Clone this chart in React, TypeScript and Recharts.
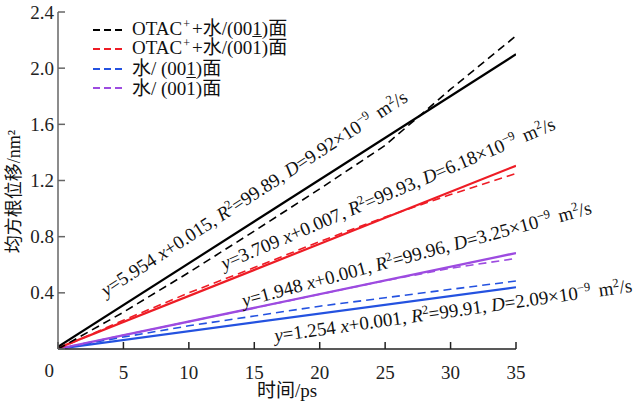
import React from 'react';
import { LineChart, Line, XAxis, YAxis, ReferenceDot } from 'recharts';

const FONT = "'Liberation Serif', 'Times New Roman', 'Noto Sans CJK SC', serif";

// sampled MSD curves (dashed)
const timeSteps = [0, 5, 10, 15, 20, 25, 30, 35];
const otac001 = [0, 0.262, 0.545, 0.84, 1.14, 1.45, 1.85, 2.23];
const otac001bar = [0, 0.205, 0.4, 0.58, 0.765, 0.94, 1.1, 1.25];
const water001 = [0, 0.085, 0.165, 0.235, 0.305, 0.365, 0.425, 0.484];
const water001bar = [0, 0.098, 0.195, 0.292, 0.39, 0.487, 0.575, 0.645];

// linear fits (solid)
const fitX = [0, 35];
const fitOtac001 = [0.015, 2.099];
const fitOtac001bar = [0.007, 1.305];
const fitWater001 = [0.001, 0.44];
const fitWater001bar = [0.001, 0.683];

const xTicks = [0, 5, 10, 15, 20, 25, 30, 35];
const yTicks = [0, 0.4, 0.8, 1.2, 1.6, 2.0, 2.4];

// fit equation annotations
const slopes = ['5.954', '3.709', '1.948', '1.254'];
const intercepts = ['0.015', '0.007', '0.001', '0.001'];
const r2Values = ['99.89', '99.93', '99.96', '99.91'];
const dValues = ['9.92', '6.18', '3.25', '2.09'];
const annoX = [3.67, 12.7, 14.2, 16.6];
const annoY = [0.37, 0.563, 0.3, 0.05];
const annoAngle = [33, 23, 15, 8];

const BLACK = '#000000';
const RED = '#ee1c25';
const BLUE = '#2452e0';
const PURPLE = '#9d4be0';

const toRows = (xs: number[], ys: number[]) => xs.map((x, i) => ({ x, y: ys[i] }));

const Sup = ({ children }: { children: React.ReactNode }) => (
  <tspan dy={-7} fontSize={12.5}>{children}</tspan>
);

const Annotation = (props: any) => {
  const { viewBox, idx } = props;
  const x = viewBox.x + viewBox.width / 2;
  const y = viewBox.y + viewBox.height / 2;
  return (
    <text
      x={x}
      y={y}
      transform={`rotate(${-annoAngle[idx]} ${x} ${y})`}
      fontFamily={FONT}
      fontSize={19}
      fill="#111"
      textAnchor="start"
    >
      <tspan fontStyle="italic">y</tspan>
      <tspan>{`=${slopes[idx]} `}</tspan>
      <tspan fontStyle="italic">x</tspan>
      <tspan>{`+${intercepts[idx]}, `}</tspan>
      <tspan fontStyle="italic">R</tspan>
      <Sup>2</Sup>
      <tspan dy={7}>{`=${r2Values[idx]}, `}</tspan>
      <tspan fontStyle="italic">D</tspan>
      <tspan>{`=${dValues[idx]}×10`}</tspan>
      <Sup>−9</Sup>
      <tspan dy={7} dx={3}>{'\u00a0m'}</tspan>
      <Sup>2</Sup>
      <tspan dy={7}>/s</tspan>
    </text>
  );
};

const XTick = (props: any) => {
  const { x, y, payload } = props;
  if (payload.value === 0) return null;
  return (
    <text x={x} y={y + 30} textAnchor="middle" fontFamily={FONT} fontSize={19} fill="#222">
      {payload.value}
    </text>
  );
};

const YTick = (props: any) => {
  const { x, y, payload } = props;
  const v = payload.value;
  return (
    <text
      x={x}
      y={v === 0 ? y + 21 : y}
      textAnchor="end"
      dominantBaseline="central"
      fontFamily={FONT}
      fontSize={19}
      fill="#222"
    >
      {v === 0 ? '0' : v.toFixed(1)}
    </text>
  );
};

const legendItems = [
  { color: BLACK, pre: 'OTAC', sup: '+', mid: '+水/(00', barOn: false },
  { color: RED, pre: 'OTAC', sup: '+', mid: '+水/(00', barOn: true },
  { color: BLUE, pre: '', sup: '', mid: '水/ (00', barOn: false },
  { color: PURPLE, pre: '', sup: '', mid: '水/ (00', barOn: true },
];

const LegendBox = () => (
  <div style={{ position: 'absolute', left: 92, top: 20, fontFamily: FONT, fontSize: 19, color: '#111', lineHeight: '19.5px' }}>
    {legendItems.map((it, i) => (
      <div key={i} style={{ display: 'flex', alignItems: 'center', height: 19.5, whiteSpace: 'nowrap' }}>
        <svg width={32} height={10} style={{ marginRight: 8 }}>
          <line x1={1} y1={5} x2={31} y2={5} stroke={it.color} strokeWidth={2} strokeDasharray="7 4" />
        </svg>
        <span>
          {it.pre}
          {it.sup && (
            <span style={{ fontSize: 12, position: 'relative', top: -7, marginLeft: 1, marginRight: 2 }}>{it.sup}</span>
          )}
          {it.mid}
          <span style={{ textDecoration: it.barOn ? 'overline' : 'none' }}>1</span>
          )面
        </span>
      </div>
    ))}
  </div>
);

export default function App() {
  return (
    <div style={{ position: 'absolute', left: 0, top: 0, width: 640, height: 404, background: '#fff' }}>
      <LineChart width={640} height={404} margin={{ top: 12, right: 124, bottom: 0, left: 0 }}>
        <XAxis
          type="number"
          dataKey="x"
          domain={[0, 35]}
          ticks={xTicks}
          height={55}
          allowDataOverflow
          stroke="#222"
          strokeWidth={1.5}
          tickSize={-7}
          tickMargin={7}
          tick={<XTick />}
          label={(p: any) => (
            <text
              x={p.viewBox.x + p.viewBox.width / 2}
              y={p.viewBox.y + 48}
              textAnchor="middle"
              fontFamily={FONT}
              fontSize={19}
              fill="#111"
            >
              时间/ps
            </text>
          )}
        />
        <YAxis
          type="number"
          domain={[0, 2.4]}
          ticks={yTicks}
          width={58}
          allowDataOverflow
          stroke="#666"
          strokeWidth={1.5}
          tickSize={-7}
          tickMargin={11}
          tick={<YTick />}
          label={(p: any) => {
            const cx = p.viewBox.x + 14;
            const cy = p.viewBox.y + p.viewBox.height / 2 + 11;
            return (
              <text
                x={cx}
                y={cy}
                transform={`rotate(-90 ${cx} ${cy})`}
                textAnchor="middle"
                dominantBaseline="central"
                fontFamily={FONT}
                fontSize={18}
                fill="#111"
              >
                均方根位移/nm²
              </text>
            );
          }}
        />

        <Line data={toRows(fitX, fitWater001)} dataKey="y" stroke={BLUE} strokeWidth={2.2} dot={false} isAnimationActive={false} />
        <Line data={toRows(fitX, fitWater001bar)} dataKey="y" stroke={PURPLE} strokeWidth={2.4} dot={false} isAnimationActive={false} />
        <Line data={toRows(fitX, fitOtac001bar)} dataKey="y" stroke={RED} strokeWidth={2.2} dot={false} isAnimationActive={false} />
        <Line data={toRows(fitX, fitOtac001)} dataKey="y" stroke={BLACK} strokeWidth={2.2} dot={false} isAnimationActive={false} />

        <Line data={toRows(timeSteps, water001)} dataKey="y" stroke={BLUE} strokeWidth={1.6} strokeDasharray="8 5" dot={false} isAnimationActive={false} />
        <Line data={toRows(timeSteps, water001bar)} dataKey="y" stroke={PURPLE} strokeWidth={1.6} strokeDasharray="8 5" dot={false} isAnimationActive={false} />
        <Line data={toRows(timeSteps, otac001bar)} dataKey="y" stroke={RED} strokeWidth={1.6} strokeDasharray="8 5" dot={false} isAnimationActive={false} />
        <Line data={toRows(timeSteps, otac001)} dataKey="y" stroke={BLACK} strokeWidth={1.6} strokeDasharray="8 5" dot={false} isAnimationActive={false} />

        {annoX.map((ax, i) => (
          <ReferenceDot
            key={i}
            x={ax}
            y={annoY[i]}
            r={1}
            fill="none"
            stroke="none"
            ifOverflow="visible"
            label={(p: any) => <Annotation {...p} idx={i} />}
          />
        ))}
      </LineChart>
      <LegendBox />
    </div>
  );
}
